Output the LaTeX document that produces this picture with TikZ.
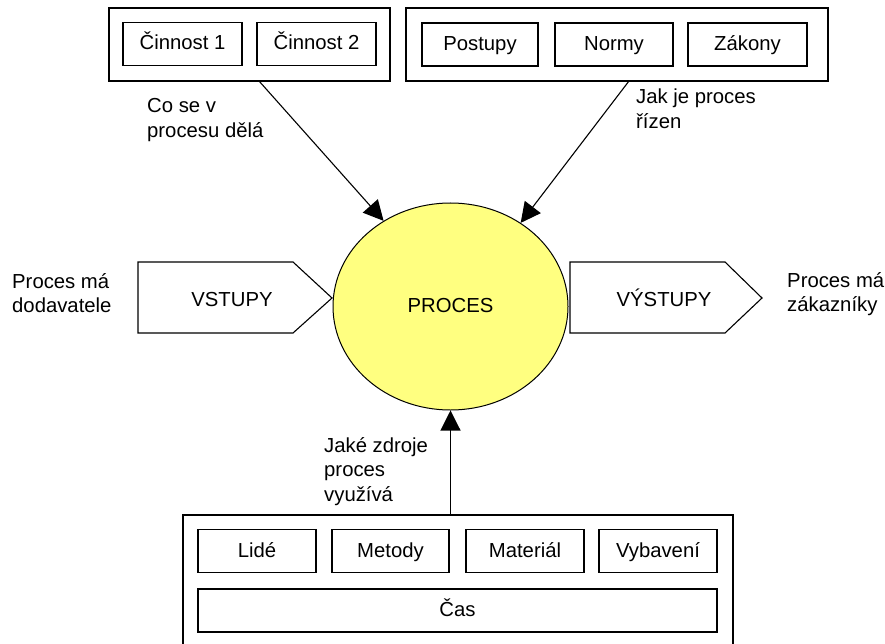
\documentclass[tikz,border=0pt]{standalone}
\usepackage{fontspec}
\setmainfont{Liberation Sans}
\usetikzlibrary{arrows.meta,shapes.geometric}
\definecolor{procyellow}{HTML}{FFFF80}
% stacked left-aligned lines whose baseline is that of the first line
\newcommand\notelines[1]{\begin{tabular}[t]{@{}l@{}}#1\end{tabular}}
\begin{document}
\begin{tikzpicture}[x=1pt,y=-1pt,
  every node/.style={font=\fontsize{20.3}{24.5}\selectfont},
  frame/.style={draw, line width=1.1pt, inner sep=0},
  item/.style={draw, line width=1.1pt, inner sep=0, minimum height=43,
    text height=16.4pt, text depth=4.4pt},
  note/.style={anchor=base west, inner sep=0},
  caption/.style={inner sep=0, text height=16.4pt, text depth=4.4pt},
  link/.style={line width=1.1pt, -{Triangle[length=20pt,width=20pt]}}]
\useasboundingbox (0,0) rectangle (885,644);

% activities
\node[frame, minimum width=281, minimum height=73] (act) at (249.5,44.5) {};
\node[item, minimum width=119] (c1) at (182.5,44) {Činnost 1};
\node[item, minimum width=119] (c2) at (316.5,44) {Činnost 2};

% governance
\node[frame, minimum width=422, minimum height=73] (gov) at (617,44.5) {};
\node[item, minimum width=116] (g1) at (480,44.5) {Postupy};
\node[item, minimum width=118] (g2) at (614,44.5) {Normy};
\node[item, minimum width=119] (g3) at (747.5,44.5) {Zákony};

% the process itself
\node[ellipse, draw, line width=1pt, fill=procyellow, inner sep=0,
  minimum width=235, minimum height=207, text height=16.4pt, text depth=4.4pt]
  (proc) at (450.5,306.5) {PROCES};

% inputs and outputs
\draw[line width=1.1pt] (138,262) -- (293,262) -- (332,298) -- (293,333) -- (138,333) -- cycle;
\node[caption] (inp) at (232,300) {VSTUPY};
\draw[line width=1.1pt] (570,262) -- (725,262) -- (762,298) -- (725,333) -- (570,333) -- cycle;
\node[caption] (outp) at (664,300) {VÝSTUPY};

% resources
\node[frame, minimum width=550, minimum height=145] (res) at (458,587.5) {};
\node[item, minimum width=118] (r1) at (257,551) {Lidé};
\node[item, minimum width=117] (r2) at (390.5,551) {Metody};
\node[item, minimum width=118] (r3) at (525,551) {Materiál};
\node[item, minimum width=118] (r4) at (658,551) {Vybavení};
\node[item, minimum width=519] (r5) at (457.5,610.5) {Čas};

% connectors
\coordinate (actout) at (259,81);
\coordinate (govout) at (629,81);
\draw[link] (actout) -- (proc.128);
\draw[link] (govout) -- (proc.50);
\draw[link] (proc.south |- res.north) -- (proc.south);

% explanations
\node[note] (n1) at (147,113) {\notelines{Co se v\\procesu dělá}};
\node[note] (n2) at (636,104) {\notelines{Jak je proces\\řízen}};
\node[note] (n3) at (12,288) {\notelines{Proces má\\dodavatele}};
\node[note] (n4) at (787,287) {\notelines{Proces má\\zákazníky}};
\node[note] (n5) at (324,452) {\notelines{Jaké zdroje\\proces\\využívá}};
\end{tikzpicture}
\end{document}
